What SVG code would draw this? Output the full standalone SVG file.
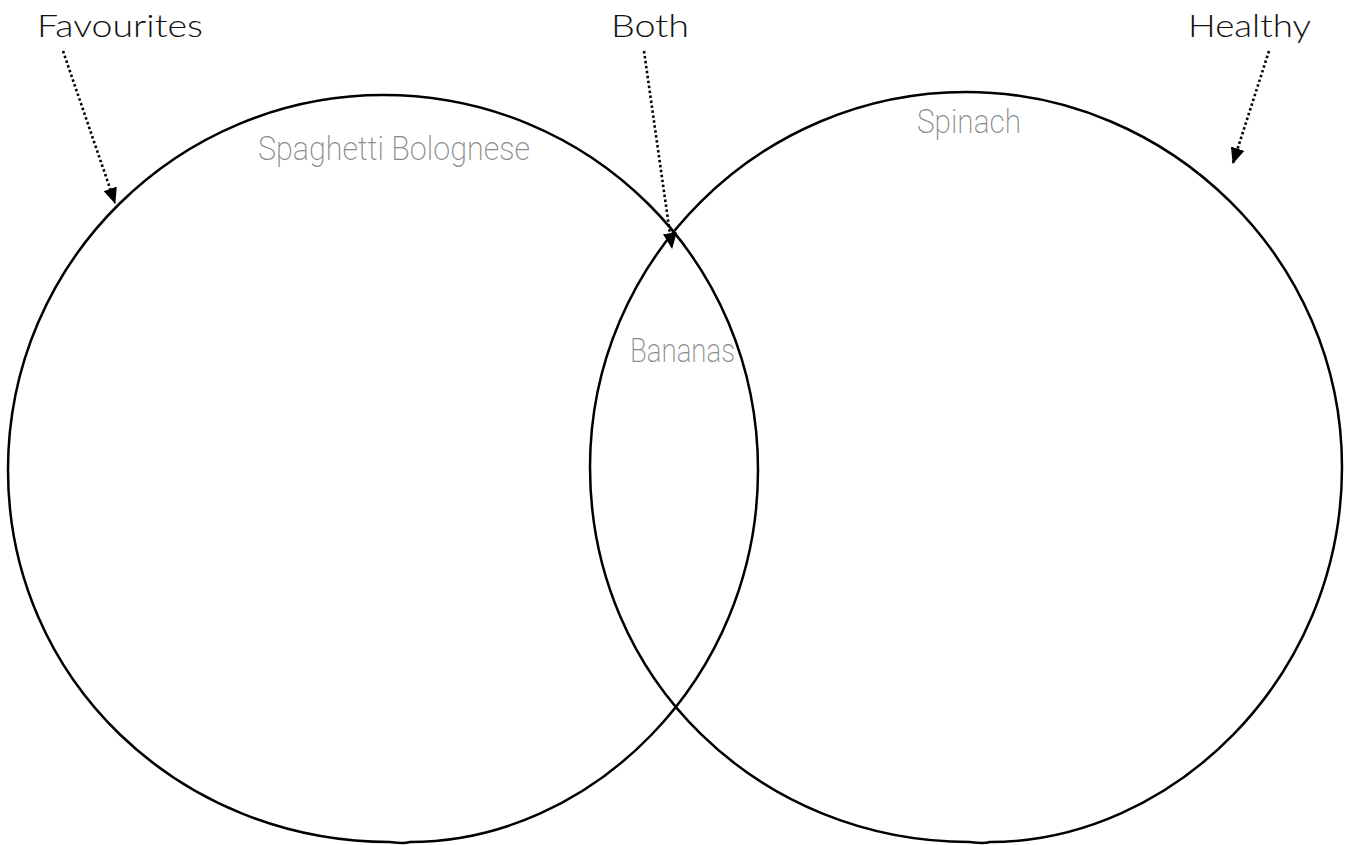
<svg xmlns="http://www.w3.org/2000/svg" width="1348" height="845" viewBox="0 0 1348 845">
<style>
.circ{fill:none;stroke:#000;stroke-width:2.5}
.lbl{font-family:Lato,"Noto Sans","Liberation Sans",sans-serif;font-size:32px;font-weight:300;fill:#111}
.item{font-family:Roboto,"Open Sans","Liberation Sans",sans-serif;font-weight:200;font-size:34px;fill:#8a8a8a}
.dot{fill:none;stroke:#000;stroke-width:2.6;stroke-dasharray:2.5 2.5}
</style>
<defs>
<marker id="ah" viewBox="0 0 16 14" refX="15" refY="7" markerWidth="16" markerHeight="14" markerUnits="userSpaceOnUse" orient="auto">
<path d="M0,0 L16,7 L0,14 Z" fill="#000"/>
</marker>
</defs>
<g id="circle-favourites">
<path class="circ" d="M758,470 C758,680 590,842 410,842 C404,844 398,843 390,842 C180,842 8,680 8,470 C8,260 180,95 383,95 C590,95 758,260 758,470 Z"/>
</g>
<g id="circle-healthy">
<path class="circ" d="M1342,467 C1342,680 1170,842 990,842 C984,844 978,843 970,842 C760,842 590,680 590,467 C590,260 760,92 966,92 C1170,92 1342,260 1342,467 Z"/>
</g>
<g id="label-favourites"><text class="lbl" x="37" y="37" textLength="166" lengthAdjust="spacingAndGlyphs">Favourites</text></g>
<g id="label-both"><text class="lbl" x="611" y="37" textLength="78" lengthAdjust="spacingAndGlyphs">Both</text></g>
<g id="label-healthy"><text class="lbl" x="1188" y="37" textLength="123" lengthAdjust="spacingAndGlyphs">Healthy</text></g>
<g id="item-spaghetti"><text class="item" x="258" y="160" textLength="272" lengthAdjust="spacingAndGlyphs">Spaghetti Bolognese</text></g>
<g id="item-bananas"><text class="item" x="630" y="362" textLength="105" lengthAdjust="spacingAndGlyphs">Bananas</text></g>
<g id="item-spinach"><text class="item" x="917" y="133" textLength="104" lengthAdjust="spacingAndGlyphs">Spinach</text></g>
<g id="connectors">
<path class="dot" d="M63,51 L115,203" marker-end="url(#ah)"/>
<path class="dot" d="M644,51 L672,248" marker-end="url(#ah)"/>
<path class="dot" d="M1269,51 L1233,163" marker-end="url(#ah)"/>
</g>
</svg>
